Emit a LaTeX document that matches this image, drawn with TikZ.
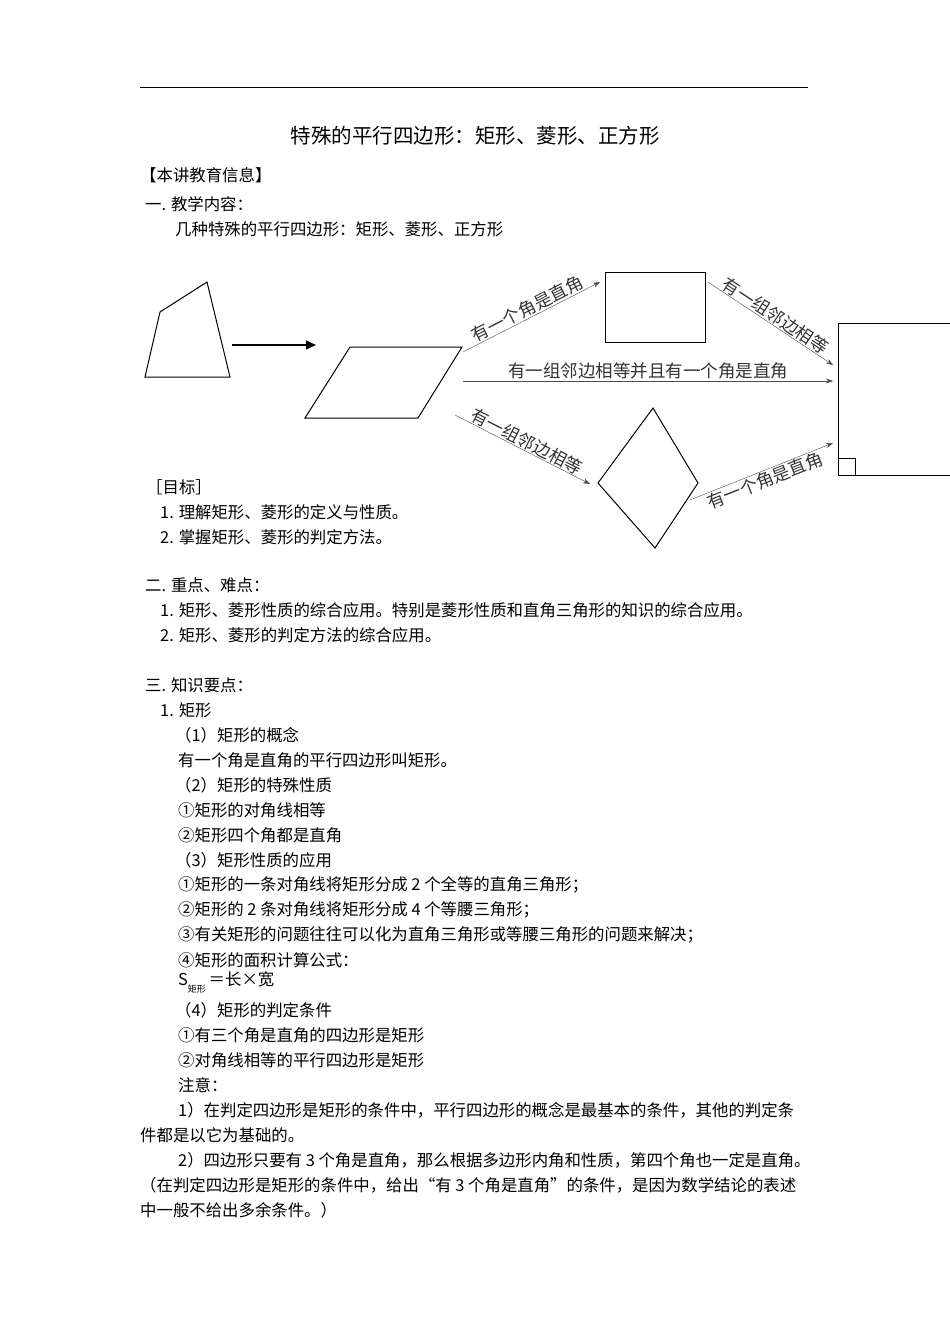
\documentclass[tikz,border=0pt]{standalone}
\usepackage{fontspec}
\setmainfont{Noto Sans CJK SC}
\usetikzlibrary{arrows.meta}
\begin{document}
\begin{tikzpicture}[x=1pt,y=-1pt,
  t/.style={anchor=west,inner sep=0,font=\fontsize{16.4}{19}\selectfont},
  lab/.style={inner sep=1,font=\fontsize{17.5}{20}\selectfont,text=black!80},
  arr/.style={draw=black!70,-{Stealth[length=7pt,width=5pt]}},
  shp/.style={draw,line width=1pt}]
\useasboundingbox[fill=white] (0,0) rectangle (950,1344);
\draw (140,87) -- (808,87);
\node[inner sep=0,font=\fontsize{20.5}{24}\selectfont] (title) at (475,136) {特殊的平行四边形：矩形、菱形、正方形};
\node[t] (a1) at (140,175) {【本讲教育信息】};
\node[t] (a2) at (145,204) {一. 教学内容：};
\node[t] (a3) at (175,229) {几种特殊的平行四边形：矩形、菱形、正方形};
% figure
\draw[shp] (145,377) -- (230,377) -- (207,282) -- (160,312) -- cycle;
\coordinate (q1) at (232,345); \coordinate (q2) at (316,345);
\draw[line width=1.2pt,-{Triangle[length=10pt,width=9pt]}] (q1) -- (q2);
\draw[shp] (305,418) -- (350,347) -- (462,347) -- (418,418) -- cycle;
\draw[shp] (605,272) rectangle (705,342);
\draw[shp] (950,323) -- (838,323) -- (838,475) -- (950,475);
\draw[shp] (838,458) -| (855,475);
\draw[shp] (653,408) -- (698,483) -- (655,548) -- (598,483) -- cycle;
\coordinate (p1) at (463,352); \coordinate (r1) at (600,282);
\draw[arr] (p1) -- node[lab,sloped,above] {有一个角是直角} (r1);
\coordinate (r2) at (708,282); \coordinate (s1) at (833,365);
\draw[arr] (r2) -- node[lab,sloped,above] {有一组邻边相等} (s1);
\coordinate (p2) at (463,381); \coordinate (s2) at (833,381);
\draw[arr] (p2) -- node[lab,above,yshift=1pt] {有一组邻边相等并且有一个角是直角} (s2);
\coordinate (p3) at (455,415); \coordinate (d1) at (590,484);
\draw[arr] (p3) -- node[lab,sloped,above] {有一组邻边相等} (d1);
\coordinate (d2) at (690,500); \coordinate (s3) at (833,443);
\draw[arr] (d2) -- node[lab,sloped,below] {有一个角是直角} (s3);
% text
\node[t] (b1) at (146,487) {［目标］};
\node[t] (b2) at (160,512) {1. 理解矩形、菱形的定义与性质。};
\node[t] (b3) at (160,537) {2. 掌握矩形、菱形的判定方法。};
\node[t] (c1) at (145,585) {二. 重点、难点：};
\node[t] (c2) at (160,610) {1. 矩形、菱形性质的综合应用。特别是菱形性质和直角三角形的知识的综合应用。};
\node[t] (c3) at (160,635) {2. 矩形、菱形的判定方法的综合应用。};
\node[t] (d0) at (145,685) {三. 知识要点：};
\node[t] (e1) at (160,710) {1. 矩形};
\node[t] (e2) at (175,735) {（1）矩形的概念};
\node[t] (e3) at (178,760) {有一个角是直角的平行四边形叫矩形。};
\node[t] (e4) at (175,785) {（2）矩形的特殊性质};
\node[t] (e5) at (178,810) {①矩形的对角线相等};
\node[t] (e6) at (178,835) {②矩形四个角都是直角};
\node[t] (e7) at (175,860) {（3）矩形性质的应用};
\node[t] (e8) at (178,885) {①矩形的一条对角线将矩形分成 2 个全等的直角三角形；};
\node[t] (e9) at (178,910) {②矩形的 2 条对角线将矩形分成 4 个等腰三角形；};
\node[t] (e10) at (178,935) {③有关矩形的问题往往可以化为直角三角形或等腰三角形的问题来解决；};
\node[t] (e11) at (178,960) {④矩形的面积计算公式：};
\node[t] (e12) at (178,982) {S\raisebox{-7pt}{\fontsize{9}{10}\selectfont 矩形}\,＝长×宽};
\node[t] (e13) at (175,1010) {（4）矩形的判定条件};
\node[t] (e14) at (178,1035) {①有三个角是直角的四边形是矩形};
\node[t] (e15) at (178,1060) {②对角线相等的平行四边形是矩形};
\node[t] (e16) at (178,1085) {注意：};
\node[t] (e17) at (178,1110) {1）在判定四边形是矩形的条件中，平行四边形的概念是最基本的条件，其他的判定条};
\node[t] (e18) at (140,1135) {件都是以它为基础的。};
\node[t] (e19) at (178,1160) {2）四边形只要有 3 个角是直角，那么根据多边形内角和性质，第四个角也一定是直角。};
\node[t] (e20) at (140,1185) {（在判定四边形是矩形的条件中，给出“有 3 个角是直角”的条件，是因为数学结论的表述};
\node[t] (e21) at (140,1210) {中一般不给出多余条件。）};
\end{tikzpicture}
\end{document}
